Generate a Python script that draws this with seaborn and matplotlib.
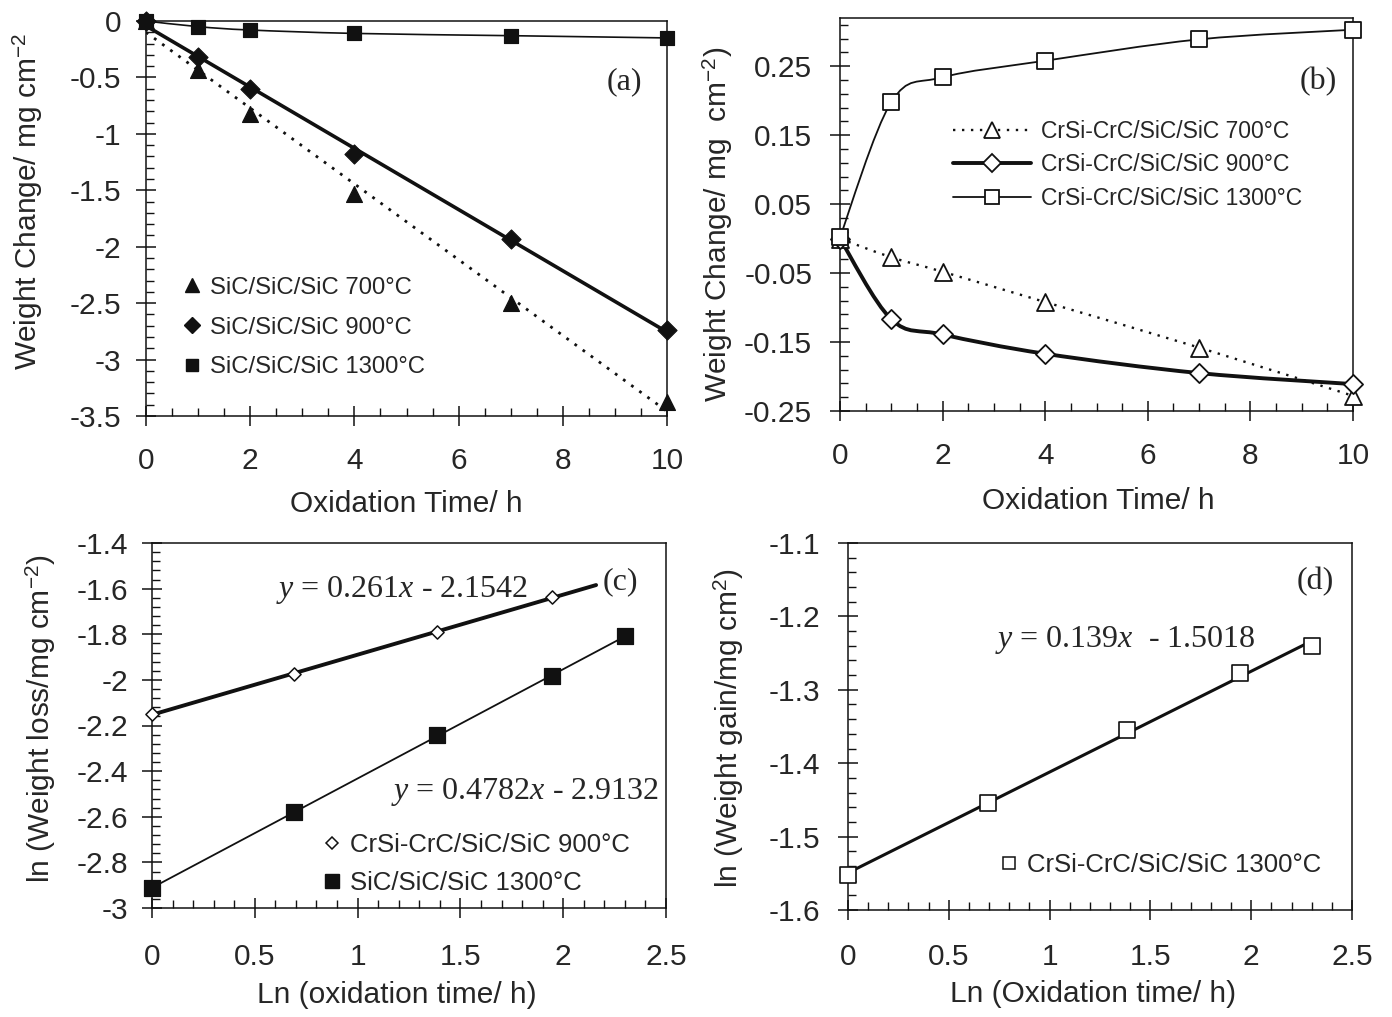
import numpy as np
import matplotlib
matplotlib.use('Agg')
import matplotlib.pyplot as plt
import seaborn as sns
from matplotlib.path import Path
from matplotlib.patches import PathPatch
from matplotlib.lines import Line2D
from matplotlib.ticker import MultipleLocator, FixedLocator

# ── data ────────────────────────────────────────────────────
time_h = [0, 1, 2, 4, 7, 10]

# (a) SiC/SiC/SiC weight change, mg cm-2
a_700 = [0, -0.43, -0.82, -1.53, -2.50, -3.38]
a_900 = [0, -0.32, -0.60, -1.18, -1.93, -2.74]
a_1300 = [0, -0.05, -0.08, -0.11, -0.13, -0.15]

# (b) CrSi-CrC/SiC/SiC weight change, mg cm-2
b_700 = [0, -0.027, -0.048, -0.092, -0.158, -0.228]
b_900 = [0, -0.117, -0.139, -0.167, -0.195, -0.211]
b_1300 = [0.002, 0.198, 0.234, 0.258, 0.289, 0.303]

# (c) / (d) log-log plots
ln_t_c900 = [0, 0.693, 1.386, 1.946]
c_900 = [-2.15, -1.974, -1.79, -1.638]
ln_t = [0, 0.693, 1.386, 1.946, 2.303]
c_1300 = [-2.912, -2.58, -2.242, -1.985, -1.806]
d_1300 = [-1.552, -1.454, -1.355, -1.277, -1.240]

eq_c900 = "$y$ = 0.261$x$ - 2.1542"
eq_c1300 = "$y$ = 0.4782$x$ - 2.9132"
eq_d1300 = "$y$ = 0.139$x$  - 1.5018"

lab_a = ['SiC/SiC/SiC 700°C', 'SiC/SiC/SiC 900°C', 'SiC/SiC/SiC 1300°C']
lab_b = ['CrSi-CrC/SiC/SiC 700°C', 'CrSi-CrC/SiC/SiC 900°C', 'CrSi-CrC/SiC/SiC 1300°C']

# ── style ───────────────────────────────────────────────────
sns.set_style('ticks')
plt.rcParams['font.family'] = ['Liberation Sans', 'DejaVu Sans']
plt.rcParams['mathtext.fontset'] = 'custom'
plt.rcParams['mathtext.rm'] = 'Liberation Sans'
plt.rcParams['mathtext.it'] = 'Liberation Serif:italic'
plt.rcParams['mathtext.sf'] = 'Liberation Sans'
plt.rcParams['axes.linewidth'] = 1.1
plt.rcParams['axes.edgecolor'] = '#222222'

K = '#111111'
TICK_FS = 21.5
LAB_FS = 21.5
SERIF = 'Liberation Serif'

fig = plt.figure(figsize=(13.92, 10.17), dpi=100)
W, H = 1392, 1017


def add_ax(l, t, r, b):
    return fig.add_axes([l / W, 1 - b / H, (r - l) / W, (b - t) / H])


ax_a = add_ax(146, 21, 667, 416)
ax_b = add_ax(840, 18, 1353, 411)
ax_c = add_ax(152, 543, 666, 908)
ax_d = add_ax(848, 543, 1352, 910)


def style_axis(ax, xmaj, xmin, ymaj, ymin, xpad, ypad):
    ax.xaxis.set_major_locator(MultipleLocator(xmaj))
    ax.xaxis.set_minor_locator(MultipleLocator(xmin))
    ax.yaxis.set_major_locator(MultipleLocator(ymaj))
    ax.yaxis.set_minor_locator(MultipleLocator(ymin))
    ax.tick_params(which='major', direction='inout', length=14, width=1.1,
                   labelsize=TICK_FS, color=K)
    ax.tick_params(which='minor', direction='in', length=6, width=1.0, color=K)
    ax.tick_params(axis='x', which='major', pad=xpad)
    ax.tick_params(axis='y', which='major', pad=ypad)
    for s in ax.spines.values():
        s.set_visible(True)
        s.set_color(K)


def smooth_curve(ax, x, y, **kw):
    # Bezier through the points, like a spreadsheet "smoothed line"
    pts = np.column_stack([x, y]).astype(float)
    n = len(pts)
    verts, codes = [pts[0]], [Path.MOVETO]
    for i in range(n - 1):
        p0 = pts[i - 1] if i > 0 else pts[i]
        p1, p2 = pts[i], pts[i + 1]
        p3 = pts[i + 2] if i + 2 < n else pts[i + 1]
        verts += [p1 + (p2 - p0) / 6, p2 - (p3 - p1) / 6, p2]
        codes += [Path.CURVE4] * 3
    ax.add_patch(PathPatch(Path(verts, codes), fill=False, **kw))


def fit_line(ax, x, y, x0, x1, **kw):
    m, c = np.polyfit(x, y, 1)
    xs = np.array([x0, x1])
    sns.lineplot(x=xs, y=m * xs + c, ax=ax, color=K, **kw)


def panel_tag(ax, x, y, s):
    ax.text(x, y, s, transform=ax.transAxes, ha='center', va='center',
            fontsize=23, family=SERIF)


# ── (a) ─────────────────────────────────────────────────────
ax = ax_a
fit_line(ax, time_h, a_700, 0, 10, lw=2.0, linestyle=(0, (1, 2.6)))
fit_line(ax, time_h, a_900, 0, 10, lw=2.6)
smooth_curve(ax, time_h, a_1300, color=K, lw=1.2)
sns.scatterplot(x=time_h, y=a_700, marker='^', s=130, color=K, edgecolor=K, ax=ax, clip_on=False, zorder=5)
sns.scatterplot(x=time_h, y=a_900, marker='D', s=95, color=K, edgecolor=K, ax=ax, clip_on=False, zorder=5)
sns.scatterplot(x=time_h, y=a_1300, marker='s', s=110, color=K, edgecolor=K, ax=ax, clip_on=False, zorder=5)
ax.set_xlim(0, 10)
ax.set_ylim(-3.5, 0)
style_axis(ax, 2, 0.5, 0.5, 0.1, 15, 11)
ax.set_yticks([0, -0.5, -1, -1.5, -2, -2.5, -3, -3.5])
ax.set_yticklabels(['0', '-0.5', '-1', '-1.5', '-2', '-2.5', '-3', '-3.5'])
ax.set_xlabel('Oxidation Time/ h', fontsize=LAB_FS)
ax.set_ylabel('Weight Change/ mg cm$^{-2}$', fontsize=LAB_FS)
ax.xaxis.set_label_coords(0.499, -0.187)
ax.yaxis.set_label_coords(-0.194, 0.542)
panel_tag(ax, 0.919, 0.846, '(a)')
h_a = [Line2D([], [], ls='none', marker=m, color=K, ms=ms)
       for m, ms in [('^', 9.5), ('D', 8), ('s', 8)]]
ax.legend(h_a, lab_a, loc='lower left', bbox_to_anchor=(0.07, 0.095), frameon=False,
          fontsize=17.2, handlelength=0.8, handletextpad=0.35, labelspacing=0.75,
          borderpad=0, borderaxespad=0)

# ── (b) ─────────────────────────────────────────────────────
ax = ax_b
smooth_curve(ax, time_h, b_700, color=K, lw=1.7, linestyle=(0, (1, 2.8)))
smooth_curve(ax, time_h, b_900, color=K, lw=2.8)
smooth_curve(ax, time_h, b_1300, color=K, lw=1.3)
sns.scatterplot(x=time_h, y=b_700, marker='^', s=150, color='white', edgecolor=K, linewidth=1.3, ax=ax, clip_on=False, zorder=5)
sns.scatterplot(x=time_h, y=b_900, marker='D', s=95, color='white', edgecolor=K, linewidth=1.3, ax=ax, clip_on=False, zorder=5)
sns.scatterplot(x=time_h, y=b_1300, marker='s', s=130, color='white', edgecolor=K, linewidth=1.3, ax=ax, clip_on=False, zorder=6)
ax.set_xlim(0, 10)
ax.set_ylim(-0.25, 0.32)
style_axis(ax, 2, 0.5, 0.1, 0.02, 15, 13)
ax.yaxis.set_major_locator(FixedLocator([-0.25, -0.15, -0.05, 0.05, 0.15, 0.25]))
ax.set_yticklabels(['-0.25', '-0.15', '-0.05', '0.05', '0.15', '0.25'])
ax.yaxis.set_minor_locator(FixedLocator(np.arange(-0.23, 0.32, 0.02)))
ax.set_xlabel('Oxidation Time/ h', fontsize=LAB_FS)
ax.set_ylabel('Weight Change/ mg  cm$^{-2}$)', fontsize=LAB_FS)
ax.xaxis.set_label_coords(0.503, -0.193)
ax.yaxis.set_label_coords(-0.205, 0.476)
panel_tag(ax, 0.932, 0.837, '(b)')
h_b = [Line2D([], [], color=K, lw=1.7, ls=(0, (1, 2.8)), marker='^', ms=11, mfc='white', mec=K, mew=1.3),
       Line2D([], [], color=K, lw=2.8, marker='D', ms=9, mfc='white', mec=K, mew=1.3),
       Line2D([], [], color=K, lw=1.3, marker='s', ms=10, mfc='white', mec=K, mew=1.3)]
ax.legend(h_b, lab_b, loc='upper left', bbox_to_anchor=(0.22, 0.74), frameon=False,
          fontsize=16.5, handlelength=3.4, handletextpad=0.45, labelspacing=0.45,
          borderpad=0, borderaxespad=0)

# ── (c) ─────────────────────────────────────────────────────
ax = ax_c
fit_line(ax, ln_t_c900, c_900, 0, 2.16, lw=2.8)
fit_line(ax, ln_t, c_1300, 0, 2.303, lw=1.3)
sns.scatterplot(x=ln_t_c900, y=c_900, marker='D', s=45, color='white', edgecolor=K, linewidth=1.1, ax=ax, clip_on=False, zorder=5)
sns.scatterplot(x=ln_t, y=c_1300, marker='s', s=120, color=K, edgecolor=K, ax=ax, clip_on=False, zorder=5)
ax.set_xlim(0, 2.5)
ax.set_ylim(-3, -1.4)
style_axis(ax, 0.5, 0.1, 0.2, 0.04, 18.5, 10)
ax.set_xticks([0, 0.5, 1, 1.5, 2, 2.5])
ax.set_xticklabels(['0', '0.5', '1', '1.5', '2', '2.5'])
ax.set_yticks(np.arange(-3, -1.39, 0.2))
ax.set_yticklabels(['-3', '-2.8', '-2.6', '-2.4', '-2.2', '-2', '-1.8', '-1.6', '-1.4'])
ax.set_xlabel('Ln (oxidation time/ h)', fontsize=LAB_FS)
ax.set_ylabel('ln (Weight loss/mg cm$^{-2}$)', fontsize=LAB_FS)
ax.xaxis.set_label_coords(0.477, -0.2)
ax.yaxis.set_label_coords(-0.183, 0.52)
panel_tag(ax, 0.911, 0.893, '(c)')
ax.text(0.486, 0.871, eq_c900, transform=ax.transAxes, ha='center', va='center',
        fontsize=23, family=SERIF)
ax.text(0.726, 0.318, eq_c1300, transform=ax.transAxes, ha='center', va='center',
        fontsize=23, family=SERIF)
h_c = [Line2D([], [], ls='none', marker='D', ms=6, mfc='white', mec=K, mew=1.1),
       Line2D([], [], ls='none', marker='s', ms=10, color=K)]
ax.legend(h_c, [lab_b[1], lab_a[2]], loc='lower left', bbox_to_anchor=(0.33, 0.035),
          frameon=False, fontsize=18.5, handlelength=0.8, handletextpad=0.3,
          labelspacing=0.55, borderpad=0, borderaxespad=0)

# ── (d) ─────────────────────────────────────────────────────
ax = ax_d
fit_line(ax, ln_t, d_1300, 0, 2.303, lw=2.2)
sns.scatterplot(x=ln_t, y=d_1300, marker='s', s=120, color='white', edgecolor=K, linewidth=1.2, ax=ax, clip_on=False, zorder=5)
ax.set_xlim(0, 2.5)
ax.set_ylim(-1.6, -1.1)
style_axis(ax, 0.5, 0.1, 0.1, 0.02, 17, 13)
ax.set_xticks([0, 0.5, 1, 1.5, 2, 2.5])
ax.set_xticklabels(['0', '0.5', '1', '1.5', '2', '2.5'])
ax.set_yticks(np.arange(-1.6, -1.09, 0.1))
ax.set_yticklabels(['-1.6', '-1.5', '-1.4', '-1.3', '-1.2', '-1.1'])
ax.set_xlabel('Ln (Oxidation time/ h)', fontsize=LAB_FS)
ax.set_ylabel('ln (Weight gain/mg cm$^{2}$)', fontsize=LAB_FS)
ax.xaxis.set_label_coords(0.486, -0.19)
ax.yaxis.set_label_coords(-0.202, 0.496)
panel_tag(ax, 0.927, 0.894, '(d)')
ax.text(0.55, 0.736, eq_d1300, transform=ax.transAxes, ha='center', va='center',
        fontsize=23, family=SERIF)
h_d = [Line2D([], [], ls='none', marker='s', ms=8, mfc='white', mec=K, mew=1.1)]
ax.legend(h_d, [lab_b[2]], loc='lower left', bbox_to_anchor=(0.30, 0.09),
          frameon=False, fontsize=18.5, handlelength=0.8, handletextpad=0.3,
          borderpad=0, borderaxespad=0)

fig.savefig('out.png', dpi=100)
